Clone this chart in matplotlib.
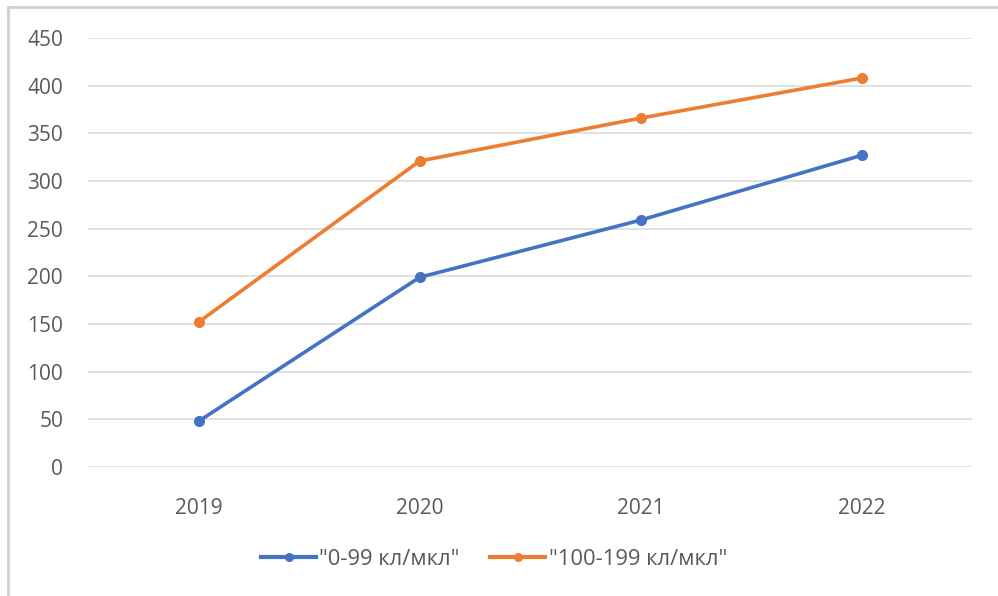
import matplotlib.pyplot as plt
from matplotlib.lines import Line2D

years = ["2019", "2020", "2021", "2022"]
low = [48, 199, 259, 327]
mid = [152, 321, 366, 408]
labels = ['"0-99 кл/мкл"', '"100-199 кл/мкл"']
colors = ["#4472C4", "#ED7D31"]

plt.rcParams['font.family'] = ['Open Sans', 'DejaVu Sans']

fig = plt.figure(figsize=(9.98, 5.96), dpi=100)
ax = fig.add_axes([0.0882, 0.2164, 0.886, 0.7198])

x = range(len(years))
for vals, lab, c in zip([low, mid], labels, colors):
    ax.plot(x, vals, color=c, lw=2.6, marker='o', ms=7, label=lab,
            solid_capstyle='round')

ax.set_xlim(-0.5, 3.5)
ax.set_ylim(0, 450)
ax.set_yticks(range(0, 451, 50))
ax.set_xticks(list(x))
ax.set_xticklabels(years)
ax.grid(axis='y', color='#d9d9d9', lw=1.1)
ax.set_axisbelow(True)
for s in ax.spines.values():
    s.set_visible(False)
ax.tick_params(length=0, labelsize=15, colors='#595959')
ax.tick_params(axis='x', pad=22)
ax.tick_params(axis='y', pad=18)

handles = [Line2D([], [], color=c, lw=3, marker='o', ms=5.5) for c in colors]
leg = fig.legend(handles, labels, loc='center', bbox_to_anchor=(0.495, 0.062), ncol=2,
                 frameon=False, fontsize=15.8, handlelength=2.5, columnspacing=1.4,
                 handletextpad=0.15)
for t in leg.get_texts():
    t.set_color('#595959')

# left and top edge of the frame
fig.add_artist(Line2D([0.008, 0.008], [0, 0.988], transform=fig.transFigure,
                      color='#d0d0d0', lw=2))
fig.add_artist(Line2D([0.008, 1], [0.988, 0.988], transform=fig.transFigure,
                      color='#d0d0d0', lw=2))

fig.savefig('out.png', dpi=100)
